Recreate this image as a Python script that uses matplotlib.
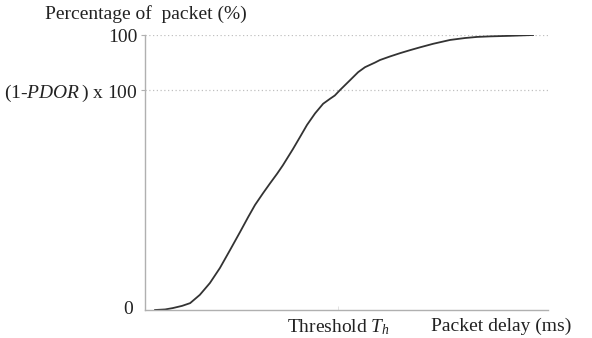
import matplotlib
matplotlib.use("Agg")
import matplotlib.pyplot as plt
import matplotlib.transforms as mtransforms

plt.rcParams['font.family'] = ['Liberation Serif', 'DejaVu Serif']
plt.rcParams['mathtext.fontset'] = 'custom'
plt.rcParams['mathtext.rm'] = 'Liberation Serif'
plt.rcParams['mathtext.it'] = 'Liberation Serif:italic'

# Packet delay (arbitrary ms units) and cumulative percentage of packets
delay = [2.5, 5.0, 6.9, 9.2, 11.2, 13.6, 16.1, 18.6, 21.1, 23.6, 25.6, 27.3, 29.3,
         31.0, 32.8, 34.2, 36.7, 38.5, 40.2, 42.2, 44.2, 45.9, 47.1, 48.4, 50.9,
         52.9, 54.6, 57.1, 58.3, 60.8, 63.3, 65.8, 68.2, 71.5, 75.7, 79.4, 82.4,
         85.6, 90.6, 96.3]
percent = [0.0, 0.2, 0.7, 1.5, 2.5, 5.5, 9.8, 15.3, 21.8, 28.4, 33.8, 38.2, 42.5,
           46.0, 49.6, 52.6, 58.5, 63.0, 67.3, 71.5, 75.0, 76.8, 78.0, 80.0, 83.6,
           86.5, 88.3, 90.0, 90.9, 92.2, 93.4, 94.5, 95.5, 96.8, 98.2, 98.9, 99.3,
           99.5, 99.7, 100.0]

threshold = 48
y_ticks = [80, 100]
y_tick_labels = ['(1-$PDOR\\,$) x 100', '100']

fig = plt.figure(figsize=(5.92, 3.38), dpi=100)
ax = fig.add_axes([145/592, 28/338, 403/592, 275/338])

txtc = '#222222'
axc = '#b0b0b0'
fs = 14

ax.plot(delay, percent, color='#333333', lw=1.3)

for lvl in y_ticks:
    ax.axhline(lvl, color='#c0c0c0', lw=0.9, ls=(0, (1, 2)), zorder=0)

ax.set_xlim(0, 100)
ax.set_ylim(0, 100)

for s in ['top', 'right']:
    ax.spines[s].set_visible(False)
for s in ['left', 'bottom']:
    ax.spines[s].set_color(axc)
    ax.spines[s].set_linewidth(1.0)

ax.set_yticks(y_ticks)
ax.set_yticklabels(y_tick_labels)
ax.tick_params(axis='y', length=3, width=0.8, color=axc, pad=2, labelsize=fs, labelcolor=txtc)

ax.set_xticks([threshold])
ax.set_xticklabels(['Threshold $T_h$'])
ax.tick_params(axis='x', direction='in', length=3, width=0.6, color='#dddddd', pad=5,
               labelsize=fs, labelcolor=txtc)

trans = mtransforms.blended_transform_factory(ax.transAxes, ax.transData)
ax.text(-0.03, 0, '0', transform=trans, ha='right', va='center', fontsize=fs, color=txtc)

fig.text(146/592, 1 - 14/338, 'Percentage of  packet (%)', ha='center', va='center',
         fontsize=fs, color=txtc)
fig.text(501/592, 1 - 326/338, 'Packet delay (ms)', ha='center', va='center',
         fontsize=fs, color=txtc)

fig.savefig('out.png', dpi=100)
